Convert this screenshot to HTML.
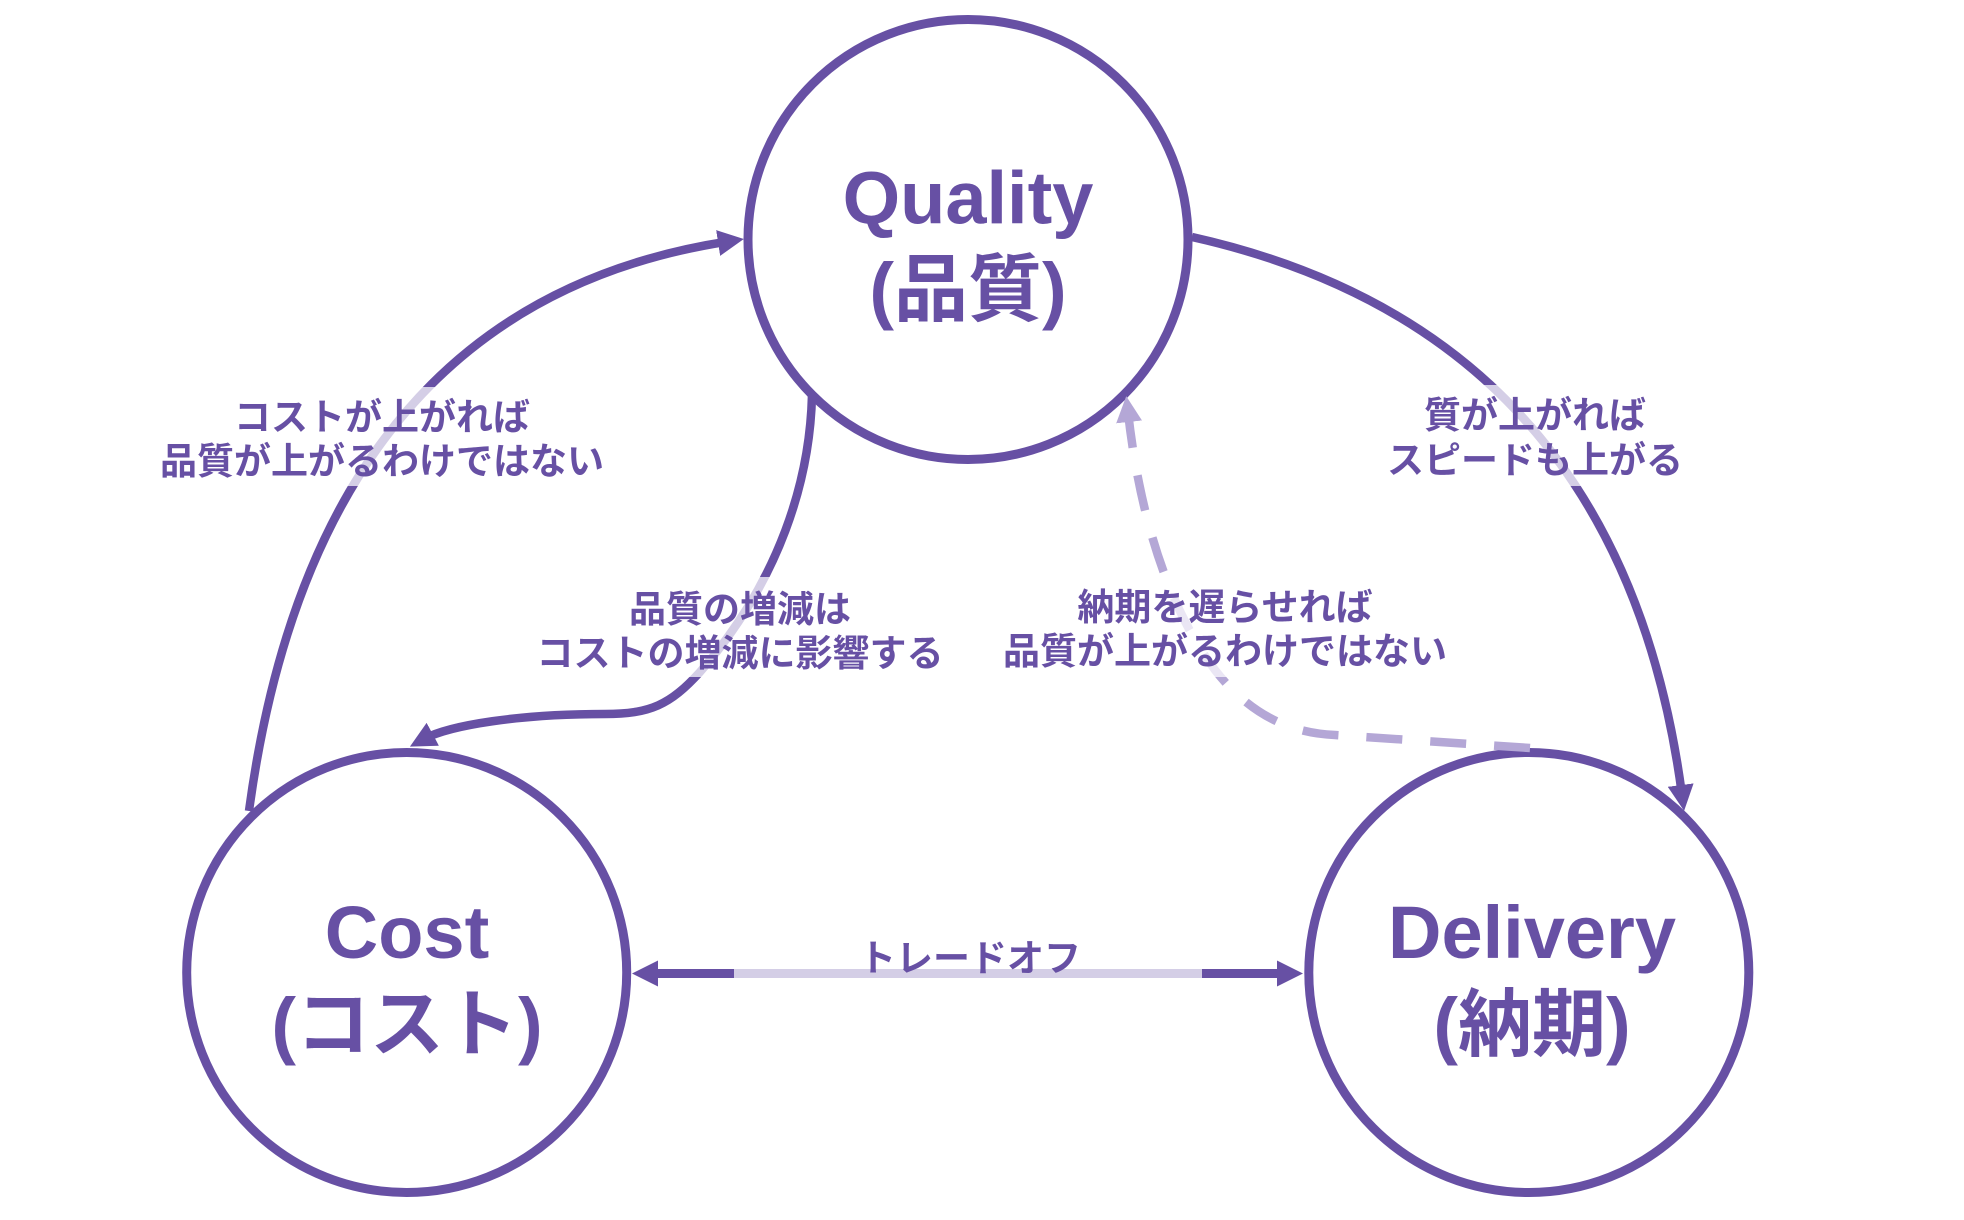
<!DOCTYPE html>
<html>
<head>
<meta charset="utf-8">
<style>
  html, body { margin:0; padding:0; background:#ffffff; }
  svg { display:block; }
  .node { font-family: "Liberation Sans", "Noto Sans CJK JP", sans-serif; font-weight:700; font-size:74px; fill:#6750A4; }
  .lbl { font-family: "Liberation Sans", "Noto Sans CJK JP", sans-serif; font-weight:700; font-size:37px; fill:#6750A4; }
</style>
</head>
<body>
<svg width="1964" height="1220" viewBox="0 0 1964 1220" xmlns="http://www.w3.org/2000/svg">
  <defs>
    <marker id="ah" viewBox="0 0 26 26" refX="10" refY="13" markerWidth="26" markerHeight="26" markerUnits="userSpaceOnUse" orient="auto-start-reverse">
      <path d="M0,0 L26,13 L0,26 Z" fill="#6750A4"/>
    </marker>
    <marker id="ahl" viewBox="0 0 26 26" refX="10" refY="13" markerWidth="26" markerHeight="26" markerUnits="userSpaceOnUse" orient="auto">
      <path d="M0,0 L26,13 L0,26 Z" fill="#B4A7D6"/>
    </marker>
  </defs>

  <rect x="0" y="0" width="1964" height="1220" fill="#ffffff"/>

  <!-- Nodes -->
  <circle cx="968" cy="239.5" r="220" fill="#ffffff" stroke="#6750A4" stroke-width="9"/>
  <circle cx="406.7" cy="972.5" r="220" fill="#ffffff" stroke="#6750A4" stroke-width="9"/>
  <circle cx="1528.8" cy="972.5" r="220" fill="#ffffff" stroke="#6750A4" stroke-width="9"/>

  <!-- Edges -->
  <g fill="none" stroke="#6750A4" stroke-width="8.5">
    <path d="M249,811 Q317,305 728,241.5" marker-end="url(#ah)"/>
    <path d="M1192,237 Q1621,333 1682,795" marker-end="url(#ah)"/>
    <path d="M812,395 C810,480 780,580 700,672 C670,705 650,714 605,714 C520,714 450,725 424,739" marker-end="url(#ah)"/>
    <path d="M648,973.5 L1287,973.5" stroke-width="9" marker-start="url(#ah)" marker-end="url(#ah)"/>
  </g>
  <path d="M1530,748 L1335,735 C1290,733 1250,715 1215,670 C1170,610 1140,520 1128,412" fill="none" stroke="#B4A7D6" stroke-width="8.5" stroke-dasharray="36 28" marker-end="url(#ahl)"/>

  <!-- Label backgrounds -->
  <g fill="#ffffff" fill-opacity="0.72">
    <rect x="150" y="387" width="465" height="99"/>
    <rect x="1380" y="385" width="310" height="101"/>
    <rect x="530" y="577" width="420" height="100"/>
    <rect x="995" y="577" width="460" height="100"/>
    <rect x="734" y="938" width="468" height="44"/>
  </g>

  <!-- Edge labels -->
  <g class="lbl" text-anchor="middle">
    <text x="382" y="430">コストが上がれば</text>
    <text x="382" y="474">品質が上がるわけではない</text>
    <text x="1535" y="428">質が上がれば</text>
    <text x="1535" y="473">スピードも上がる</text>
    <text x="740" y="622">品質の増減は</text>
    <text x="740" y="666">コストの増減に影響する</text>
    <text x="1225" y="620">納期を遅らせれば</text>
    <text x="1225" y="664">品質が上がるわけではない</text>
    <text x="970" y="971">トレードオフ</text>
  </g>

  <!-- Node labels -->
  <g class="node" text-anchor="middle">
    <text x="968" y="223.5">Quality</text>
    <text x="968" y="315">(品質)</text>
    <text x="407" y="958">Cost</text>
    <text x="407" y="1050">(コスト)</text>
    <text x="1532" y="958">Delivery</text>
    <text x="1532" y="1050">(納期)</text>
  </g>
</svg>
</body>
</html>
